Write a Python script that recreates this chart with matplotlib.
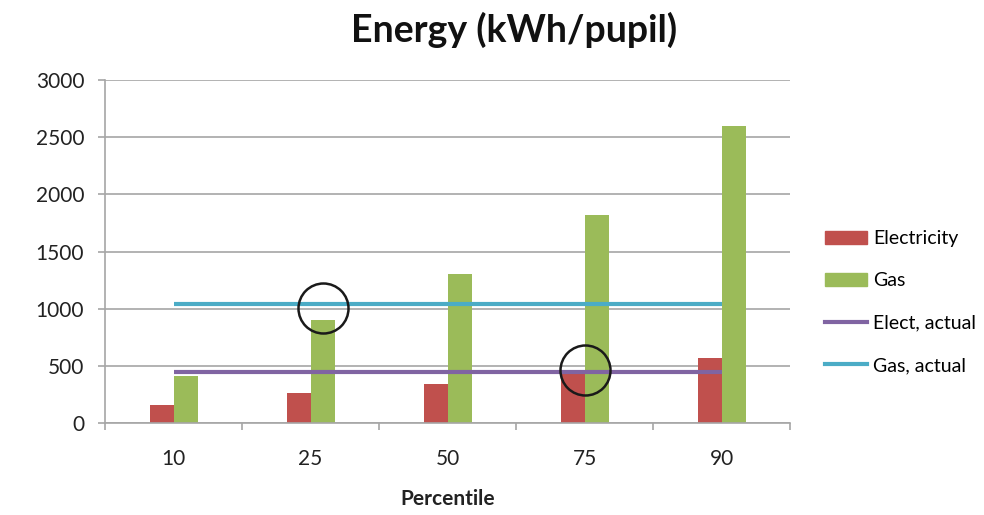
import matplotlib

matplotlib.use("Agg")
import matplotlib.pyplot as plt
import numpy as np
from matplotlib.lines import Line2D
from matplotlib.patches import Patch

percentiles = ["10", "25", "50", "75", "90"]
electricity = [160, 265, 340, 440, 570]
gas = [410, 900, 1300, 1820, 2600]
elect_actual = 450
gas_actual = 1040

# highlighted spots (category index, kWh/pupil)
circle_x = [1.09, 3.0]
circle_y = [1010, 465]

RED = "#C0504D"
GREEN = "#9BBB59"
PURPLE = "#8064A2"
CYAN = "#4BACC6"
GRID = "#A6A6A6"

plt.rcParams["font.family"] = ["Lato", "DejaVu Sans"]

fig = plt.figure(figsize=(9.84, 5.15), dpi=100)
ax = fig.add_axes([0.1067, 0.1786, 0.6965, 0.6661])

x = np.arange(len(percentiles))
w = 0.175
ax.bar(x - w / 2, electricity, w, color=RED, zorder=2)
ax.bar(x + w / 2, gas, w, color=GREEN, zorder=2)

ax.plot([x[0], x[-1]], [elect_actual] * 2, color=PURPLE, lw=3, zorder=3,
        solid_capstyle="butt")
ax.plot([x[0], x[-1]], [gas_actual] * 2, color=CYAN, lw=3, zorder=3,
        solid_capstyle="butt")

ax.plot(circle_x, circle_y, "o", ms=36, mfc="none", mec="#1a1a1a", mew=1.8,
        zorder=4, clip_on=False)

ax.set_xlim(-0.5, len(percentiles) - 0.5)
ax.set_ylim(0, 3000)
ax.set_yticks(range(0, 3001, 500))
ax.yaxis.grid(True, color=GRID, lw=1.2, zorder=0)
ax.set_axisbelow(True)

ax.set_xticks(x)
ax.set_xticklabels(percentiles)
ax.set_xticks(np.arange(-0.5, len(percentiles)), minor=True)
ax.tick_params(axis="x", which="major", length=0, pad=19, labelsize=15,
               labelcolor="#222222")
ax.tick_params(axis="x", which="minor", length=5, color=GRID, width=1.2)
ax.tick_params(axis="y", length=5, color=GRID, width=1.2, labelsize=15,
               labelcolor="#222222", pad=10)

for side in ("top", "right"):
    ax.spines[side].set_visible(False)
for side in ("left", "bottom"):
    ax.spines[side].set_color(GRID)
    ax.spines[side].set_linewidth(1.2)

ax.set_xlabel("Percentile", fontsize=15, fontweight="bold", labelpad=14,
              color="#222222")
fig.text(0.522, 0.942, "Energy (kWh/pupil)", ha="center", va="center",
         fontsize=27, fontweight="bold", color="#111111")

handles = [
    Patch(color=RED),
    Patch(color=GREEN),
    Line2D([], [], color=PURPLE, lw=3),
    Line2D([], [], color=CYAN, lw=3),
]
labels = ["Electricity", "Gas", "Elect, actual", "Gas, actual"]
fig.legend(handles, labels, loc="upper left", bbox_to_anchor=(0.838, 0.553),
           frameon=False, fontsize=14, handlelength=2.2, handleheight=0.65,
           handletextpad=0.3, labelspacing=1.3, borderpad=0,
           borderaxespad=0)

fig.savefig("out.png", dpi=100)
